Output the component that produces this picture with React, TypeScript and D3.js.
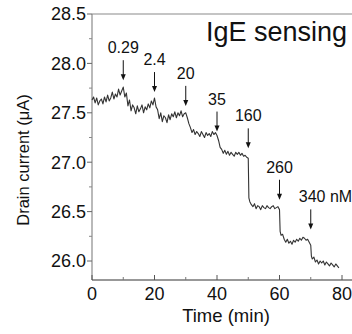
import React from 'react';
import * as d3 from 'd3';

// Drain current trace (µA) vs time (min)
const times = [
  0, 0.5, 1, 1.5, 2, 2.5, 3, 3.5, 4, 4.5, 5, 5.5, 6, 6.5, 7, 7.5, 8, 8.5, 9, 9.5,
  10, 10.5, 11, 11.5, 12, 12.5, 13, 13.5, 14, 14.5, 15, 15.5, 16, 16.5, 17, 17.5, 18, 18.5, 19, 19.5,
  20, 20.5, 21, 21.5, 22, 22.5, 23, 23.5, 24, 24.5, 25, 25.5, 26, 26.5, 27, 27.5, 28, 28.5, 29, 29.5,
  30, 30.5, 31, 31.5, 32, 32.5, 33, 33.5, 34, 34.5, 35, 35.5, 36, 36.5, 37, 37.5, 38, 38.5, 39, 39.5,
  40, 40.5, 41, 41.5, 42, 42.5, 43, 43.5, 44, 44.5, 45, 45.5, 46, 46.5, 47, 47.5, 48, 48.5, 49, 49.5, 50,
  50.2, 50.5, 51, 51.5, 52, 52.5, 53, 53.5, 54, 54.5, 55, 55.5, 56, 56.5, 57, 57.5, 58, 58.5, 59, 59.5, 60,
  60.2, 60.5, 61, 61.5, 62, 62.5, 63, 63.5, 64, 64.5, 65, 65.5, 66, 66.5, 67, 67.5, 68, 68.5, 69, 69.5, 70,
  70.2, 70.5, 71, 71.5, 72, 72.5, 73, 73.5, 74, 74.5, 75, 75.5, 76, 76.5, 77, 77.5, 78, 78.5, 79,
];
const current = [
  27.63, 27.66, 27.6, 27.65, 27.58, 27.62, 27.64, 27.59, 27.66, 27.61, 27.68, 27.62, 27.65, 27.71, 27.64, 27.69, 27.66, 27.74, 27.68, 27.72,
  27.76, 27.66, 27.7, 27.57, 27.63, 27.52, 27.58, 27.55, 27.49, 27.57, 27.51, 27.54, 27.58, 27.5, 27.56, 27.53, 27.59, 27.55, 27.62, 27.58,
  27.65, 27.56, 27.53, 27.44, 27.5, 27.41, 27.47, 27.45, 27.4, 27.48, 27.43, 27.49, 27.46, 27.51, 27.45, 27.5, 27.47, 27.52, 27.46, 27.49,
  27.5, 27.45, 27.39, 27.35, 27.3, 27.33, 27.28, 27.31, 27.29, 27.26, 27.31, 27.28, 27.25, 27.3, 27.27, 27.29, 27.26, 27.31, 27.28, 27.3,
  27.27, 27.22, 27.15, 27.13, 27.09, 27.12, 27.08, 27.11, 27.07, 27.1, 27.08, 27.06, 27.1, 27.08, 27.1, 27.07, 27.09, 27.06, 27.07, 27.05, 27.04,
  26.64, 26.6, 26.57, 26.55, 26.58, 26.53, 26.56, 26.55, 26.52, 26.56, 26.54, 26.53, 26.56, 26.54, 26.53, 26.55, 26.56, 26.53, 26.54, 26.55, 26.52,
  26.3, 26.26, 26.27, 26.22, 26.19, 26.22, 26.18, 26.2, 26.17, 26.21, 26.19, 26.22, 26.2, 26.23, 26.21, 26.24, 26.23, 26.21, 26.22, 26.19, 26.16,
  26.05, 26.02, 26.04, 25.99, 26.01, 25.97, 26.0, 25.98, 26.0, 25.96, 25.99, 25.97, 25.95, 25.98, 25.96, 25.94, 25.97, 25.95, 25.93,
];

// IgE additions
const addTimes = [10, 20, 30, 40, 50, 60, 70];
const addLabels = ['0.29', '2.4', '20', '35', '160', '260', '340 nM'];
const arrowTips = [27.83, 27.71, 27.57, 27.31, 27.14, 26.62, 26.32];

const xMajor = [0, 20, 40, 60, 80];
const xMinor = [10, 30, 50, 70];
const yMajor = [26.0, 26.5, 27.0, 27.5, 28.0, 28.5];
const yMinor = [26.25, 26.75, 27.25, 27.75, 28.25];

const W = 352;
const H = 334;
const left = 92;
const top = 14;
const bottom = 280;

export default function App() {
  const x = d3.scaleLinear().domain([0, 80]).range([left, 342]);
  const y = d3.scaleLinear().domain([26.0, 28.5]).range([261, top]);

  const pts = times.map((t, i) => [t, current[i]] as [number, number]);
  const line = d3.line<[number, number]>()
    .x(d => x(d[0]))
    .y(d => y(d[1]));

  const font = 'Arial, "Liberation Sans", sans-serif';

  return (
    <svg width={W} height={H} style={{ position: 'absolute', left: 0, top: 0, background: '#fff' }}
      fontFamily={font}>
      {/* frame */}
      <line x1={left} x2={W} y1={top} y2={top} stroke="#8a8a8a" strokeWidth={1.2} />
      <line x1={left} x2={left} y1={top} y2={bottom} stroke="#8a8a8a" strokeWidth={1.2} />
      <line x1={left} x2={W} y1={bottom} y2={bottom} stroke="#333" strokeWidth={1.2} />

      {/* y ticks */}
      {yMajor.map(v => (
        <g key={'ym' + v}>
          <line x1={left - 5} x2={left} y1={y(v)} y2={y(v)} stroke="#666" />
          <text x={left - 6} y={y(v)} dy="0.35em" textAnchor="end" fontSize={18} fill="#111">
            {v.toFixed(1)}
          </text>
        </g>
      ))}
      {yMinor.map(v => (
        <line key={'yn' + v} x1={left - 3} x2={left} y1={y(v)} y2={y(v)} stroke="#888" />
      ))}

      {/* x ticks */}
      {xMajor.map(v => (
        <g key={'xm' + v}>
          <line x1={x(v)} x2={x(v)} y1={bottom} y2={bottom - 5} stroke="#555" />
          <text x={x(v)} y={bottom + 20} textAnchor="middle" fontSize={18} fill="#111">{v}</text>
        </g>
      ))}
      {xMinor.map(v => (
        <line key={'xn' + v} x1={x(v)} x2={x(v)} y1={bottom} y2={bottom - 3} stroke="#777" />
      ))}

      {/* trace */}
      <path d={line(pts) ?? ''} fill="none" stroke="#333" strokeWidth={1.1} strokeLinejoin="round" />

      {/* addition arrows */}
      {addTimes.map((t, i) => {
        const ax = x(t);
        const tip = y(arrowTips[i]);
        const last = i === addTimes.length - 1;
        return (
          <g key={'a' + t}>
            <line x1={ax} x2={ax} y1={tip - 20} y2={tip - 4} stroke="#111" strokeWidth={1} />
            <path d={`M${ax - 2.5},${tip - 6}L${ax + 2.5},${tip - 6}L${ax},${tip}Z`} fill="#111" />
            <text x={last ? ax - 12 : ax} y={tip - 27} textAnchor={last ? 'start' : 'middle'}
              fontSize={16} fill="#111">
              {addLabels[i]}
            </text>
          </g>
        );
      })}

      {/* title */}
      <text x={206} y={41} fontSize={27} fill="#111">IgE sensing</text>

      {/* axis labels */}
      <text x={226} y={322} textAnchor="middle" fontSize={18.5} fill="#111">Time (min)</text>
      <text transform={`translate(29,160) rotate(-90)`} textAnchor="middle" fontSize={16.5} fill="#111">
        Drain current (μA)
      </text>
    </svg>
  );
}
